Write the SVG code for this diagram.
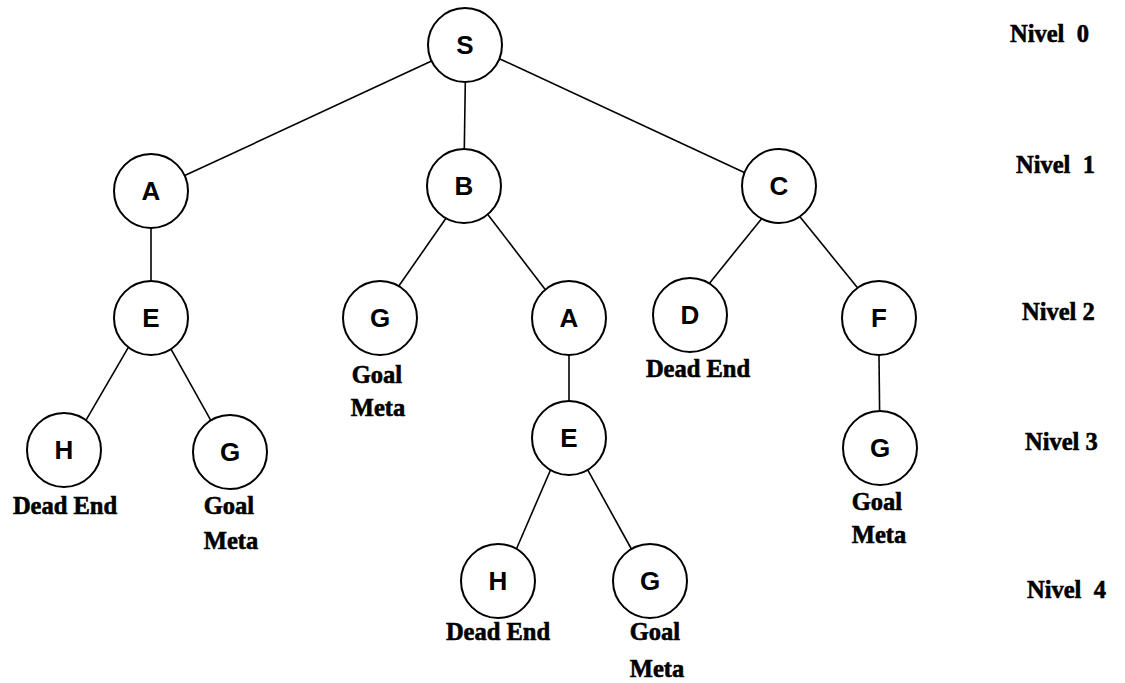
<svg xmlns="http://www.w3.org/2000/svg" width="1125" height="683" viewBox="0 0 1125 683">
  <style>
    .node circle { fill: #fff; stroke: #000; stroke-width: 2; }
    .node text { font-family: "Liberation Sans", Arial, sans-serif; font-weight: bold; font-size: 26px; text-anchor: middle; fill: #000; }
    .edges line { stroke: #000; stroke-width: 1.6; }
    .lbl { font-family: "Liberation Serif", "Times New Roman", serif; font-weight: bold; font-size: 24.5px; fill: #000; stroke: #000; stroke-width: 0.6; white-space: pre; }
    .mid { text-anchor: middle; }
  </style>
  <rect width="1125" height="683" fill="#fff"/>

  <!-- connectors: endpoints trimmed to circle boundaries (r = 37) -->
  <g id="edges" class="edges">
    <line x1="432.1" y1="60.8" x2="184.7" y2="175.6"/>
    <line x1="465.3" y1="82" x2="464.3" y2="149"/>
    <line x1="499.9" y1="58.9" x2="744.3" y2="172.4"/>
    <line x1="151" y1="228" x2="151" y2="281"/>
    <line x1="446" y1="218.3" x2="399" y2="285.7"/>
    <line x1="487.8" y1="214.4" x2="545.2" y2="289.6"/>
    <line x1="761.6" y1="218.7" x2="709.3" y2="283.4"/>
    <line x1="799.7" y1="216.6" x2="857.3" y2="287.4"/>
    <line x1="128.5" y1="347.2" x2="85.6" y2="420.8"/>
    <line x1="171" y1="349.1" x2="211.1" y2="420.9"/>
    <line x1="569" y1="355" x2="569" y2="401"/>
    <line x1="879" y1="355" x2="879.6" y2="411"/>
    <line x1="550.5" y1="470" x2="516.4" y2="549"/>
    <line x1="587.7" y1="469.9" x2="631.4" y2="549"/>
  </g>

  <!-- nodes -->
  <g id="n-S" class="node"><circle cx="465" cy="45" r="37"/><text x="465" y="54">S</text></g>
  <g id="n-A1" class="node"><circle cx="151" cy="191" r="37"/><text x="151" y="200">A</text></g>
  <g id="n-B" class="node"><circle cx="464" cy="186" r="37"/><text x="464" y="195">B</text></g>
  <g id="n-C" class="node"><circle cx="779" cy="186" r="37"/><text x="779" y="195">C</text></g>
  <g id="n-E1" class="node"><circle cx="151" cy="318" r="37"/><text x="151" y="327">E</text></g>
  <g id="n-G1" class="node"><circle cx="380" cy="318" r="37"/><text x="380" y="327">G</text></g>
  <g id="n-A2" class="node"><circle cx="569" cy="318" r="37"/><text x="569" y="327">A</text></g>
  <g id="n-D" class="node"><circle cx="690" cy="315" r="37"/><text x="690" y="324">D</text></g>
  <g id="n-F" class="node"><circle cx="879" cy="318" r="37"/><text x="879" y="327">F</text></g>
  <g id="n-H1" class="node"><circle cx="64" cy="450" r="37"/><text x="64" y="459">H</text></g>
  <g id="n-G2" class="node"><circle cx="230" cy="452" r="37"/><text x="230" y="461">G</text></g>
  <g id="n-E2" class="node"><circle cx="569" cy="438" r="37"/><text x="569" y="447">E</text></g>
  <g id="n-G3" class="node"><circle cx="880" cy="448" r="37"/><text x="880" y="457">G</text></g>
  <g id="n-H2" class="node"><circle cx="498" cy="581" r="37"/><text x="498" y="590">H</text></g>
  <g id="n-G4" class="node"><circle cx="650" cy="581" r="37"/><text x="650" y="590">G</text></g>

  <!-- outcome labels under leaves -->
  <g id="leaf-labels">
    <text class="lbl mid" x="65" y="514">Dead End</text>
    <text class="lbl mid" x="229" y="514">Goal</text>
    <text class="lbl mid" x="231" y="549">Meta</text>
    <text class="lbl mid" x="377" y="383">Goal</text>
    <text class="lbl mid" x="378" y="416">Meta</text>
    <text class="lbl mid" x="698" y="377">Dead End</text>
    <text class="lbl mid" x="877" y="510">Goal</text>
    <text class="lbl mid" x="879" y="543">Meta</text>
    <text class="lbl mid" x="498" y="640">Dead End</text>
    <text class="lbl mid" x="655" y="640">Goal</text>
    <text class="lbl mid" x="657" y="677">Meta</text>
  </g>

  <!-- depth levels -->
  <g id="levels">
    <text class="lbl" x="1010" y="42">Nivel  0</text>
    <text class="lbl" x="1016" y="173">Nivel  1</text>
    <text class="lbl" x="1022" y="320">Nivel 2</text>
    <text class="lbl" x="1025" y="450">Nivel 3</text>
    <text class="lbl" x="1027" y="598">Nivel  4</text>
  </g>
</svg>
